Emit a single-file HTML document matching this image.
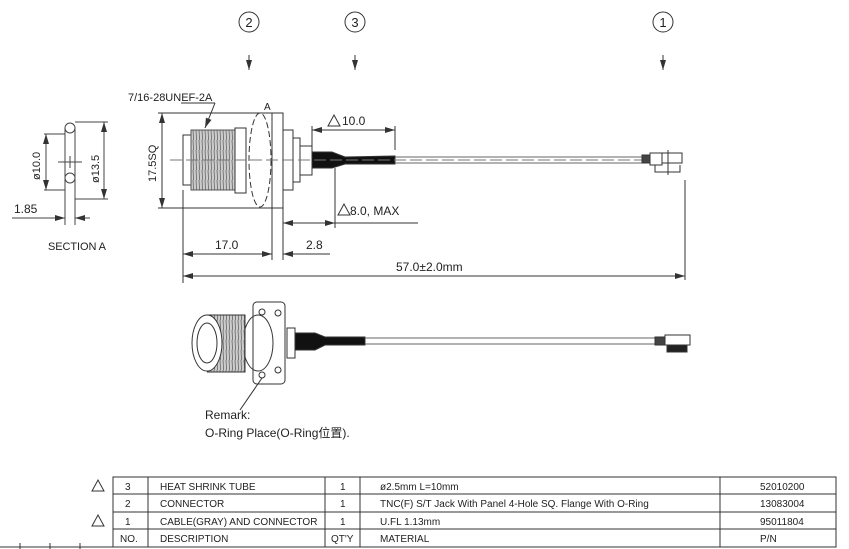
<!DOCTYPE html>
<html><head><meta charset="utf-8"><style>
html,body{margin:0;padding:0;background:#fff}
svg{display:block}
text{font-family:"Liberation Sans","Noto Sans CJK SC",sans-serif;fill:#222}
.t{font-size:10px}
</style></head><body>
<svg width="849" height="549" viewBox="0 0 849 549" xmlns="http://www.w3.org/2000/svg">
<defs>
<marker id="a" viewBox="0 0 10 6" refX="10" refY="3" markerWidth="10" markerHeight="6" orient="auto-start-reverse" markerUnits="userSpaceOnUse"><path d="M0,0L10,3L0,6z" fill="#333"/></marker>
<pattern id="th" width="3" height="10" patternUnits="userSpaceOnUse"><rect width="3" height="10" fill="#ccc"/><line x1="1" y1="0" x2="1.6" y2="10" stroke="#666" stroke-width="0.8"/></pattern>
</defs>
<g stroke="#333" fill="none" stroke-width="1">
<circle cx="249" cy="22" r="10"/><circle cx="355" cy="22" r="10"/><circle cx="663" cy="22" r="10"/>
</g>
<text x="249" y="27" font-size="13" text-anchor="middle">2</text>
<text x="355" y="27" font-size="13" text-anchor="middle">3</text>
<text x="663" y="27" font-size="13" text-anchor="middle">1</text>
<g stroke="#333" stroke-width="1">
<line x1="249" y1="55" x2="249" y2="70" marker-end="url(#a)"/>
<line x1="355" y1="55" x2="355" y2="70" marker-end="url(#a)"/>
<line x1="663" y1="55" x2="663" y2="70" marker-end="url(#a)"/>
</g>

<!-- Section A -->
<g stroke="#444" fill="none" stroke-width="1">
<circle cx="70" cy="128" r="5"/><circle cx="70" cy="178" r="5"/>
<line x1="65" y1="128" x2="65" y2="225"/><line x1="75" y1="128" x2="75" y2="225"/>
<line x1="44" y1="134" x2="65" y2="134"/><line x1="44" y1="190" x2="65" y2="190"/>
<line x1="75" y1="122" x2="108" y2="122"/><line x1="75" y1="199" x2="108" y2="199"/>
<line x1="46" y1="134" x2="46" y2="190" marker-start="url(#a)" marker-end="url(#a)"/>
<line x1="104" y1="122" x2="104" y2="199" marker-start="url(#a)" marker-end="url(#a)"/>
<line x1="58" y1="162" x2="82" y2="162"/><line x1="70" y1="156" x2="70" y2="168"/>
<line x1="12" y1="218" x2="65" y2="218" marker-end="url(#a)"/>
<line x1="90" y1="218" x2="75" y2="218" marker-end="url(#a)"/>
</g>
<text x="0" y="0" font-size="11" transform="translate(40,180) rotate(-90)">ø10.0</text>
<text x="0" y="0" font-size="11" transform="translate(99,183) rotate(-90)">ø13.5</text>
<text x="14" y="213" font-size="12">1.85</text>
<text x="48" y="250" font-size="11" textLength="58">SECTION   A</text>

<!-- main view -->
<g stroke="#333" fill="none" stroke-width="1">
<line x1="158" y1="113" x2="283" y2="113"/><line x1="158" y1="208" x2="283" y2="208"/>
<line x1="162" y1="113" x2="162" y2="208" marker-start="url(#a)" marker-end="url(#a)"/>
<rect x="183" y="135" width="8" height="50"/>
<rect x="191" y="130" width="44" height="60" fill="url(#th)" stroke="#555"/>
<rect x="235" y="128" width="11" height="65"/>
<ellipse cx="260" cy="160" rx="11" ry="47" stroke-dasharray="6,3"/>
<rect x="272" y="113" width="11" height="95"/>
<rect x="283" y="130" width="10" height="60"/>
<rect x="293" y="138" width="7" height="44"/>
<rect x="300" y="146" width="12" height="29"/>
<path d="M312,152 L332,152 L345,157 L395,156 L395,164 L345,164 L332,168 L312,168 Z" fill="#111"/>
<line x1="395" y1="157" x2="642" y2="157" stroke="#666"/>
<line x1="395" y1="163" x2="642" y2="163" stroke="#666"/>
<line x1="170" y1="160" x2="650" y2="160" stroke-dasharray="12,4" stroke="#777"/>
<rect x="642" y="155" width="8" height="8" fill="#444"/>
<rect x="650" y="153" width="12" height="12"/>
<rect x="662" y="153" width="20" height="10"/>
<path d="M655,165 L655,172 L680,172 L680,165"/>
<line x1="668" y1="150" x2="668" y2="175"/>
<line x1="312" y1="148" x2="312" y2="126"/><line x1="395" y1="150" x2="395" y2="126"/>
<line x1="312" y1="130" x2="395" y2="130" marker-start="url(#a)" marker-end="url(#a)"/>
<line x1="335" y1="168" x2="335" y2="228"/>
<line x1="283" y1="208" x2="283" y2="260"/><line x1="272" y1="208" x2="272" y2="260"/>
<line x1="283" y1="223" x2="335" y2="223" marker-start="url(#a)" marker-end="url(#a)"/>
<line x1="335" y1="223" x2="418" y2="223"/>
<line x1="183" y1="190" x2="183" y2="283"/>
<line x1="183" y1="254" x2="272" y2="254" marker-start="url(#a)" marker-end="url(#a)"/>
<line x1="283" y1="254" x2="330" y2="254" marker-start="url(#a)"/>
<line x1="685" y1="180" x2="685" y2="280"/>
<line x1="183" y1="276" x2="685" y2="276" marker-start="url(#a)" marker-end="url(#a)"/>
<line x1="215" y1="103" x2="205" y2="128" marker-end="url(#a)"/>
<line x1="181" y1="103" x2="215" y2="103"/>
</g>
<text x="128" y="101" font-size="11">7/16-28UNEF-2A</text>
<text x="264" y="110" font-size="10">A</text>
<text x="0" y="0" font-size="11" transform="translate(156,182) rotate(-90)">17.5SQ</text>
<path d="M328,126 L334,115 L340,126Z" fill="none" stroke="#333"/>
<text x="342" y="125" font-size="12">10.0</text>
<path d="M338,215 L344,204 L350,215Z" fill="none" stroke="#333"/>
<text x="350" y="215" font-size="12">8.0, MAX</text>
<text x="215" y="249" font-size="12">17.0</text>
<text x="306" y="249" font-size="12">2.8</text>
<text x="396" y="271" font-size="12">57.0±2.0mm</text>

<!-- bottom view -->
<g stroke="#333" fill="none" stroke-width="1">
<rect x="253" y="302" width="32" height="82" rx="4"/>
<circle cx="262" cy="312" r="3"/><circle cx="278" cy="313" r="3"/><circle cx="262" cy="375" r="3"/><circle cx="278" cy="370" r="3"/>
<ellipse cx="258" cy="343" rx="15" ry="28"/>
<path d="M207,315 L245,315 L245,372 L207,372" fill="url(#th)"/>
<ellipse cx="207" cy="343" rx="15" ry="28" fill="#fff"/>
<ellipse cx="207" cy="343" rx="10" ry="20"/>
<rect x="287" y="328" width="8" height="30"/>
<path d="M295,333 L315,333 L325,337 L365,337 L365,345 L325,345 L315,350 L295,350 Z" fill="#111"/>
<line x1="365" y1="338" x2="655" y2="338" stroke="#666"/><line x1="365" y1="344" x2="655" y2="344" stroke="#666"/>
<rect x="655" y="337" width="10" height="8" fill="#444"/>
<rect x="665" y="335" width="25" height="10"/>
<rect x="667" y="345" width="20" height="7" fill="#222"/>
<line x1="262" y1="378" x2="240" y2="410"/>
</g>
<text x="205" y="419" font-size="12">Remark:</text>
<text x="205" y="437" font-size="12">O-Ring Place(O-Ring位置).</text>

<!-- table -->
<g stroke="#333" fill="none" stroke-width="1">
<rect x="113" y="477" width="723" height="70"/>
<line x1="113" y1="494" x2="836" y2="494"/><line x1="113" y1="512" x2="836" y2="512"/><line x1="113" y1="529" x2="836" y2="529"/>
<line x1="148" y1="477" x2="148" y2="547"/><line x1="325" y1="477" x2="325" y2="547"/><line x1="360" y1="477" x2="360" y2="547"/><line x1="720" y1="477" x2="720" y2="547"/>
<line x1="0" y1="547" x2="113" y2="547"/>
<line x1="20" y1="543" x2="20" y2="549"/><line x1="50" y1="543" x2="50" y2="549"/><line x1="80" y1="543" x2="80" y2="549"/>
<path d="M92,491 L98,480 L104,491Z"/><path d="M92,526 L98,515 L104,526Z"/>
</g>
<g class="t">
<text x="125" y="490">3</text><text x="160" y="490">HEAT SHRINK TUBE</text><text x="340" y="490">1</text><text x="380" y="490">ø2.5mm L=10mm</text><text x="760" y="490">52010200</text>
<text x="125" y="507">2</text><text x="160" y="507">CONNECTOR</text><text x="340" y="507">1</text><text x="380" y="507">TNC(F) S/T Jack With Panel 4-Hole SQ. Flange With O-Ring</text><text x="760" y="507">13083004</text>
<text x="125" y="525">1</text><text x="160" y="525">CABLE(GRAY) AND CONNECTOR</text><text x="340" y="525">1</text><text x="380" y="525">U.FL 1.13mm</text><text x="760" y="525">95011804</text>
<text x="120" y="542">NO.</text><text x="160" y="542">DESCRIPTION</text><text x="331" y="542">QT'Y</text><text x="380" y="542">MATERIAL</text><text x="760" y="542">P/N</text>
</g>
</svg>
</body></html>
